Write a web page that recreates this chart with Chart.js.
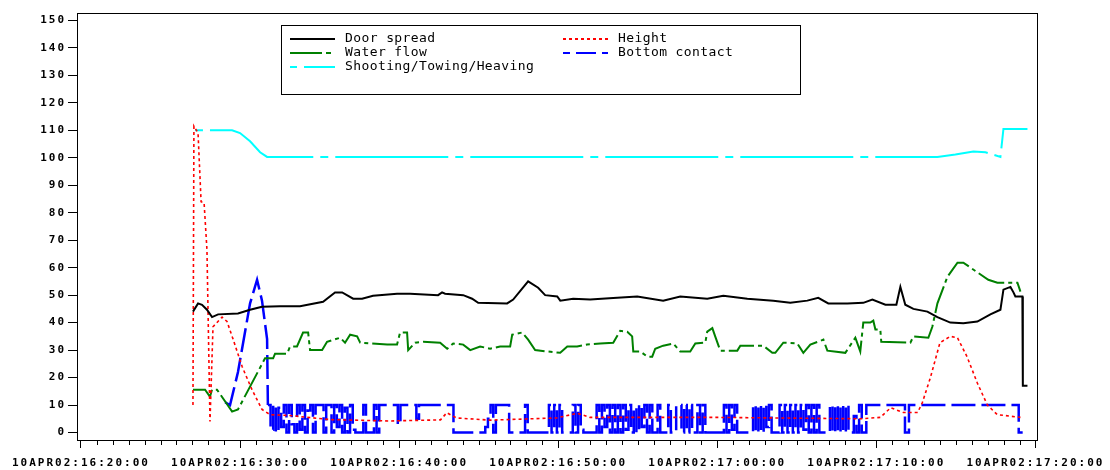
<!DOCTYPE html>
<html>
<head>
<meta charset="utf-8">
<script src="https://cdn.jsdelivr.net/npm/chart.js@4.4.1/dist/chart.umd.min.js"></script>
<style>
  body { margin: 0; background: #fff; }
  canvas { display: block; }
</style>
</head>
<body>
<canvas id="trawl-chart" width="1110" height="470"></canvas>
<script>
// time = minutes after 10APR02:16:20:00
const timeTicks = [0, 10, 20, 30, 40, 50, 60];
const timeLabels = ['10APR02:16:20:00', '10APR02:16:30:00', '10APR02:16:40:00', '10APR02:16:50:00',
    '10APR02:17:00:00', '10APR02:17:10:00', '10APR02:17:20:00'];
const yTicks = [0, 10, 20, 30, 40, 50, 60, 70, 80, 90, 100, 110, 120, 130, 140, 150];

const doorSpread = [[7.04,44],[7.36,47],[7.61,46.5],[7.92,44.7],[8.24,42],[8.62,43],[9.87,43.3],[10.63,44.7],
    [11.38,45.8],[12.52,46],[13.77,46],[15.22,47.6],[15.97,51],[16.42,51],[17.11,48.7],[17.67,48.7],[18.36,49.8],
    [19.87,50.5],[20.69,50.5],[22.45,50],[22.70,51],[22.89,50.5],[24.03,50],[24.59,48.7],[24.97,47.2],[26.79,47],
    [27.17,48.4],[28.11,55],[28.74,52.7],[29.18,50],[29.94,49.5],[30.13,48],[30.94,48.7],[32.01,48.4],[33.46,49],
    [34.97,49.5],[36.60,48],[37.67,49.5],[39.37,48.7],[40.38,49.8],[41.89,48.7],[43.52,48],[44.59,47.2],[45.66,48],
    [46.35,49],[46.98,47],[48.18,47],[49.18,47.2],[49.75,48.4],[50.57,46.5],[51.26,46.5],[51.51,53],[51.82,46.5],
    [52.33,45],[53.21,44],[53.84,42],[54.65,40],[55.47,39.8],[56.35,40.4],[57.17,43],[57.80,44.7],[57.99,52],
    [58.43,53],[58.62,51],[58.74,49.5],[59.18,49.5],[59.21,17],[59.50,17]];

const height = [[7.04,10],[7.10,111.5],[7.36,109],[7.55,84],[7.74,83.6],[7.92,66.5],[8.11,4],[8.30,38.5],
    [8.87,42],[9.18,40.4],[9.56,34],[10.13,24],[10.75,15.6],[11.38,8.4],[11.89,6.5],[13.10,6.2],[15.66,4.7],
    [19.4,4.2],[22.6,4.6],[23.0,7.2],[23.6,5.3],[25.7,4.5],[29.9,5.3],[31.2,7],[32.0,5.5],[40,5.5],[49,5],
    [50.25,5.5],[50.9,9],[51.7,7.3],[52.6,7.3],[52.9,11],[53.4,20],[54.0,32.7],[54.65,35],[55.1,34.5],[55.7,27.6],
    [56.35,18],[56.98,10],[57.6,6.5],[59.06,5.5]];

const waterFlow = [[7.04,15.6],[7.80,15.6],[8.11,13],[8.24,15.6],[8.55,15.6],[9.50,7.6],[9.87,8.4],[11.57,27],
    [12.08,27],[12.20,28.7],[12.96,28.7],[13.14,31.3],[13.58,31.3],[13.96,36.4],[14.28,36.4],[14.40,30],[15.16,30],
    [15.47,33],[16.29,34.5],[16.60,32.7],[16.92,35.6],[17.36,35],[17.55,32.7],[19.25,32],[19.87,32],[20.06,36.4],
    [20.50,36.4],[20.57,30],[21.01,32.7],[21.51,33],[22.58,32.7],[23.02,30.5],[23.40,32.4],[24.03,32],[24.47,30],
    [25.09,31.3],[25.72,30.5],[26.35,31.3],[26.98,31.3],[27.11,35.6],[27.74,36.4],[28.11,33.8],[28.55,30],
    [29.31,29.5],[30.13,29],[30.57,31.3],[31.19,31.3],[31.82,32],[32.64,32.4],[33.46,32.7],[33.90,37],[34.34,36.7],
    [34.65,35],[34.72,29.5],[35.16,29.5],[35.60,27.6],[35.91,27.6],[36.10,30.5],[36.60,31.6],[37.23,32.4],
    [37.67,29.5],[38.30,29.5],[38.62,32.4],[39.25,32.7],[39.37,36.7],[39.69,38],[39.87,35],[40.19,29.8],
    [41.26,29.8],[41.45,31.6],[42.89,31.6],[43.46,29],[43.65,29],[44.15,32.7],[45.03,32.4],[45.41,29],[45.85,32],
    [46.67,33.8],[46.92,29.8],[48.05,29],[48.68,34.5],[48.99,29.5],[49.18,40],[49.62,40],[49.81,40.7],[49.94,37.5],
    [50.25,37.5],[50.31,33],[52.14,32.7],[52.33,35],[53.27,34.5],[53.52,38.5],[53.84,47],[54.47,56.7],[55.10,61.8],
    [55.47,61.8],[57.04,55.6],[57.61,54.5],[58.87,54.5],[59.06,51.3]];

const shooting = [[7.04,110],[9.50,110],[10.0,109],[10.63,106],[11.26,102],[11.70,100.3],[53.84,100.3],
    [54.97,101.2],[56.1,102.3],[56.86,102],[57.80,100.3],[57.99,110.5],[59.50,110.5]];

// bottom contact: lift-off, then 10 s samples while on bottom, then the haul-back part
const bottomStart = [[9.06,11],[9.37,10],[9.87,22],[10.63,47],[11.07,55.6],[11.38,48],[11.70,34]];
const bottomSampleStart = 11.75;
const bottomSampleStep = 1 / 6;
const bottomSamples = [
    10,1,10,0,9,2,10,0,10,3,0,10,1,10,0,8,10,0, 10,10,10, 0,10,
    10,0,10,2,10,0,9,0,10,1, 0,0,0,10,0,0,0, 10,0,10, 10,10,10,10,10, 10,3,10, 10,10,
    10,10,10,5,10,10,10,10, 10,10,10,10,10,10,10,10,10, 0,0, 0,0,0,0,0,0,0,0,0,0,
    2,5,10,0,10,10,10, 10,10, 0,0,0,0,0,0,10,0, 0,0,0,0,0,0,0, 10,0,10,0,10, 0,0,0,0,
    10,0,10,1, 0,0,0,0,0, 10,0,10,2,10,0, 10,0,10,0,10,1,10,0,9,0,10,2,10,0,10,0,
    0,10,0,0,0,10,0,0,10, 10,0,10,0,10,0, 0,10,0,10,0, 0,0,0,0,0,0, 10,0,10,1,10,0,
    0,0,0,0,0, 10,0,10,0,10,2,10, 0,0,0, 10,0,10,0,10,0, 10,0,10,1,10,0,10,0,10,
    0,0,0,0, 10,0,10,0,10,0, 10,0,0,6,0,10,0];
const bottomEnd = [[49.37,10],[51.7,10],[51.8,0],[51.95,0],[52.05,10],[58.87,10],[58.95,0],[59.2,0]];

function toPoints(pairs) {
    return pairs.map(p => ({ x: p[0], y: p[1] }));
}

const bottomOnGround = bottomSamples.map((v, i) => ({ x: bottomSampleStart + i * bottomSampleStep, y: v }));
const bottomLiftOff = toPoints(bottomStart).concat([bottomOnGround[0]]);
const bottomStepped = bottomOnGround.concat(toPoints(bottomEnd));

const monoFont = '"DejaVu Sans Mono", "Liberation Mono", monospace';

// frame, minor time ticks and the boxed legend inside the plot
const sasPlugin = {
    id: 'sasLook',
    beforeDraw(chart) {
        chart.ctx.letterSpacing = '2px';
    },
    afterDraw(chart) {
        const ctx = chart.ctx;
        const area = chart.chartArea;
        const xScale = chart.scales.x;
        ctx.save();
        ctx.strokeStyle = '#000';
        ctx.lineWidth = 1;
        ctx.strokeRect(area.left + 0.5, area.top + 0.5, area.right - area.left, area.bottom - area.top);

        ctx.beginPath();
        for (let m = 0; m <= 60; m++) {
            if (m % 10 === 0) continue;
            const px = Math.round(xScale.getPixelForValue(m)) + 0.5;
            ctx.moveTo(px, area.bottom);
            ctx.lineTo(px, area.bottom + 5);
        }
        ctx.stroke();

        // legend
        ctx.strokeRect(281.5, 25.5, 519, 69);
        ctx.letterSpacing = '0.4px';
        ctx.font = '13px ' + monoFont;
        ctx.textBaseline = 'middle';
        ctx.fillStyle = '#000';
        const entries = [
            { ds: 0, x: 290, y: 39, dash: [] },
            { ds: 2, x: 290, y: 53, dash: [32, 4, 5, 4] },
            { ds: 3, x: 290, y: 67, dash: [7, 7, 40] },
            { ds: 1, x: 563, y: 39, dash: [3, 3] },
            { ds: 4, x: 563, y: 53, dash: [7, 6, 20, 6, 7] }
        ];
        entries.forEach(e => {
            const ds = chart.data.datasets[e.ds];
            ctx.beginPath();
            ctx.setLineDash(e.dash);
            ctx.strokeStyle = ds.borderColor;
            ctx.lineWidth = 2;
            ctx.moveTo(e.x, e.y);
            ctx.lineTo(e.x + 45, e.y);
            ctx.stroke();
            ctx.setLineDash([]);
            ctx.fillText(ds.label, e.x + 55, e.y);
        });
        ctx.restore();
    }
};

const ctx = document.getElementById('trawl-chart').getContext('2d');
new Chart(ctx, {
    type: 'line',
    data: {
        datasets: [
            { label: 'Door spread', data: toPoints(doorSpread), borderColor: '#000000', borderWidth: 2 },
            { label: 'Height', data: toPoints(height), borderColor: '#ff0000', borderWidth: 1.6, borderDash: [3, 3] },
            { label: 'Water flow', data: toPoints(waterFlow), borderColor: '#008000', borderWidth: 2, borderDash: [28, 4, 4, 4] },
            { label: 'Shooting/Towing/Heaving', data: toPoints(shooting), borderColor: '#00ffff', borderWidth: 2,
              borderDash: [113, 7, 8, 7], borderDashOffset: 118 },
            { label: 'Bottom contact', data: bottomLiftOff, borderColor: '#0000ff', borderWidth: 2.5, borderDash: [24, 6] },
            { label: 'Bottom contact', data: bottomStepped, borderColor: '#0000ff', borderWidth: 2.5, borderDash: [24, 6],
              stepped: 'before' }
        ]
    },
    options: {
        responsive: false,
        animation: false,
        devicePixelRatio: 1,
        elements: { point: { radius: 0 }, line: { tension: 0, fill: false } },
        layout: { padding: { left: 0, right: 73, top: 13, bottom: 0 } },
        plugins: { legend: { display: false }, tooltip: { enabled: false } },
        scales: {
            x: {
                type: 'linear',
                min: -0.25,
                max: 60.1,
                afterBuildTicks: scale => { scale.ticks = timeTicks.map(v => ({ value: v })); },
                afterFit: scale => { scale.height = 30; },
                grid: { drawOnChartArea: false, tickLength: 8, tickColor: '#000' },
                border: { color: '#000' },
                ticks: {
                    autoSkip: false,
                    maxRotation: 0,
                    padding: 9,
                    color: '#000',
                    font: { family: monoFont, size: 11, weight: 'bold' },
                    callback: (value, index) => timeLabels[index]
                }
            },
            y: {
                min: -2.73,
                max: 152.7,
                afterBuildTicks: scale => { scale.ticks = yTicks.map(v => ({ value: v })); },
                afterFit: scale => { scale.width = 77; },
                grid: { drawOnChartArea: false, tickLength: 9, tickColor: '#000' },
                border: { color: '#000' },
                ticks: {
                    padding: 2,
                    color: '#000',
                    font: { family: monoFont, size: 11, weight: 'bold' }
                }
            }
        }
    },
    plugins: [sasPlugin]
});
</script>
</body>
</html>
